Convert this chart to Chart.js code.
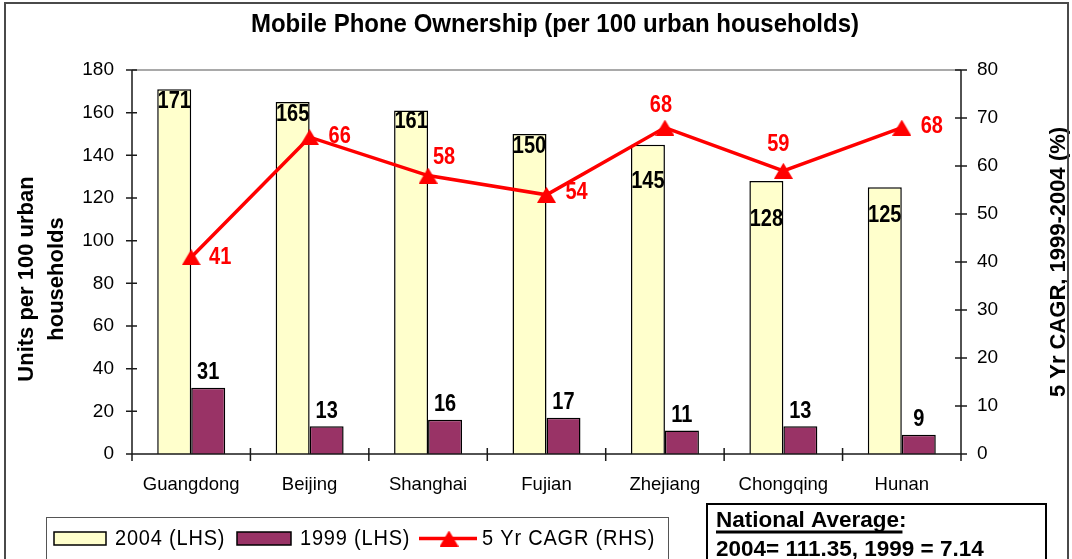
<!DOCTYPE html>
<html>
<head>
<meta charset="utf-8">
<script src="https://cdn.jsdelivr.net/npm/chart.js@4.4.1/dist/chart.umd.min.js"></script>
<style>
  html, body { margin: 0; padding: 0; background: #fff; }
  #wrap { position: relative; width: 1072px; height: 559px; overflow: hidden; }
  canvas { display: block; }
</style>
</head>
<body>
<div id="wrap"><canvas id="c" width="1072" height="559"></canvas></div>
<script>
// ---- data ----
const categories = ['Guangdong', 'Beijing', 'Shanghai', 'Fujian', 'Zhejiang', 'Chongqing', 'Hunan'];
const units2004 = [171, 165, 161, 150, 145, 128, 125];
const units1999 = [31, 13, 16, 17, 11, 13, 9];
const cagr = [41, 66, 58, 54, 68, 59, 68];
const leftAxis = { min: 0, max: 180, step: 20 };
const rightAxis = { min: 0, max: 80, step: 10 };
const chartTitle = 'Mobile Phone Ownership (per 100 urban households)';
const leftTitle = ['Units per 100 urban', 'households'];
const rightTitle = '5 Yr CAGR, 1999-2004 (%)';
const seriesNames = ['2004 (LHS)', '1999 (LHS)', '5 Yr CAGR (RHS)'];
const noteLines = ['National Average:', '2004= 111.35, 1999 = 7.14'];

// ---- label placement (style only) ----
const lab2004Dy = [12, 13, 11.5, 12.5, 36.5, 38.5, 28];
const lab1999Dy = -15;
const cagrLabOff = [[29, 0], [30, -1], [16, -18], [30, -2], [-4, -22], [-5, -26], [30, -1]];

const YELLOW = '#FFFFCC', MAROON = '#993366', RED = '#FF0000';
const FONT = "'Liberation Sans', Arial, Helvetica, sans-serif";

function triangleCanvas(w, h, color) {
  const c = document.createElement('canvas');
  c.width = w; c.height = h;
  const g = c.getContext('2d');
  g.fillStyle = color;
  g.beginPath();
  g.moveTo(w / 2, 0); g.lineTo(w, h); g.lineTo(0, h); g.closePath();
  g.fill();
  return c;
}
const tri = triangleCanvas(19, 16, RED);

function tallText(ctx, s, x, y, k) {
  ctx.save();
  ctx.translate(x, y);
  ctx.scale(1, k);
  ctx.fillText(s, 0, 0);
  ctx.restore();
}

const deco = {
  id: 'deco',
  beforeDraw(chart) {
    const ctx = chart.ctx;
    ctx.save();
    ctx.fillStyle = '#fff';
    ctx.fillRect(0, 0, chart.width, chart.height);
    ctx.restore();
  },
  beforeDatasetsDraw(chart) {
    const { ctx, chartArea: a } = chart;
    ctx.save();
    ctx.strokeStyle = '#8c8c8c';
    ctx.lineWidth = 1.5;
    ctx.beginPath();
    ctx.moveTo(a.left, a.top); ctx.lineTo(a.right, a.top);
    ctx.stroke();
    ctx.restore();
  },
  afterDatasetsDraw(chart) {
    const { ctx, chartArea: a, scales } = chart;
    ctx.save();
    ctx.strokeStyle = '#1a1a1a';
    ctx.lineWidth = 1.5;
    ctx.beginPath();
    ctx.moveTo(a.left, a.top); ctx.lineTo(a.left, a.bottom);
    ctx.moveTo(a.right, a.top); ctx.lineTo(a.right, a.bottom);
    ctx.moveTo(a.left - 6, a.bottom); ctx.lineTo(a.right + 6, a.bottom);
    scales.y.ticks.forEach(t => {
      const p = scales.y.getPixelForValue(t.value);
      ctx.moveTo(a.left - 6, p); ctx.lineTo(a.left + 5, p);
    });
    scales.y1.ticks.forEach(t => {
      const p = scales.y1.getPixelForValue(t.value);
      ctx.moveTo(a.right - 6, p); ctx.lineTo(a.right + 6, p);
    });
    for (let i = 0; i <= categories.length; i++) {
      const p = scales.x.getPixelForValue(i - 0.5);
      ctx.moveTo(p, a.bottom - 6); ctx.lineTo(p, a.bottom + 7);
    }
    ctx.stroke();
    ctx.restore();
  },
  afterDraw(chart) {
    const ctx = chart.ctx;
    ctx.save();
    // data labels
    ctx.textAlign = 'center';
    ctx.textBaseline = 'middle';
    ctx.font = 'bold 20px ' + FONT;
    ctx.fillStyle = '#000';
    const m0 = chart.getDatasetMeta(0), m1 = chart.getDatasetMeta(1), m2 = chart.getDatasetMeta(2);
    m0.data.forEach((el, i) => tallText(ctx, String(units2004[i]), el.x, el.y + lab2004Dy[i], 1.15));
    m1.data.forEach((el, i) => tallText(ctx, String(units1999[i]), el.x, el.y + lab1999Dy, 1.15));
    ctx.fillStyle = RED;
    m2.data.forEach((el, i) => tallText(ctx, String(cagr[i]), el.x + cagrLabOff[i][0], el.y + cagrLabOff[i][1], 1.15));

    // title
    ctx.fillStyle = '#000';
    ctx.font = 'bold 24px ' + FONT;
    tallText(ctx, chartTitle, 555, 25, 1.05);

    // axis titles
    ctx.font = 'bold 22px ' + FONT;
    ctx.textBaseline = 'alphabetic';
    [[33, leftTitle[0]], [63, leftTitle[1]]].forEach(([x, s]) => {
      ctx.save(); ctx.translate(x, 279); ctx.rotate(-Math.PI / 2); ctx.fillText(s, 0, 0); ctx.restore();
    });
    ctx.save(); ctx.translate(1065, 262); ctx.rotate(-Math.PI / 2); ctx.fillText(rightTitle, 0, 0); ctx.restore();

    // legend
    ctx.strokeStyle = '#555';
    ctx.lineWidth = 1;
    ctx.strokeRect(46.5, 517.5, 622, 80);
    const ds = chart.data.datasets;
    ctx.lineWidth = 1.5;
    ctx.strokeStyle = '#000';
    ctx.fillStyle = ds[0].backgroundColor; ctx.fillRect(54, 532, 52, 13); ctx.strokeRect(54, 532, 52, 13);
    ctx.fillStyle = ds[1].backgroundColor; ctx.fillRect(237, 532, 54, 13); ctx.strokeRect(237, 532, 54, 13);
    ctx.strokeStyle = RED; ctx.lineWidth = 3.5;
    ctx.beginPath(); ctx.moveTo(419, 538.5); ctx.lineTo(477, 538.5); ctx.stroke();
    ctx.drawImage(tri, 449 - 9.5, 538.5 - 8);
    ctx.fillStyle = '#000';
    ctx.font = '20px ' + FONT;
    ctx.textAlign = 'left';
    ctx.textBaseline = 'middle';
    try { ctx.letterSpacing = '0.8px'; } catch (e) {}
    tallText(ctx, ds[0].label, 115, 539, 1.1);
    tallText(ctx, ds[1].label, 300, 539, 1.1);
    tallText(ctx, ds[2].label, 482, 539, 1.1);
    try { ctx.letterSpacing = '0px'; } catch (e) {}

    // national average note
    ctx.strokeStyle = '#000'; ctx.lineWidth = 2;
    ctx.strokeRect(707, 504, 339, 80);
    ctx.font = 'bold 22.5px ' + FONT;
    ctx.textBaseline = 'alphabetic';
    ctx.fillText(noteLines[0], 716, 527);
    const w0 = ctx.measureText(noteLines[0]).width;
    ctx.fillRect(716, 530.5, w0 - 4, 3);
    ctx.fillText(noteLines[1], 716, 556);
    const w1 = ctx.measureText(noteLines[1]).width;
    ctx.fillRect(716, 559, w1, 2);

    // outer border
    ctx.strokeStyle = '#4a4a4a'; ctx.lineWidth = 2;
    ctx.strokeRect(5, 3, 1063, 600);
    ctx.restore();
  }
};

new Chart(document.getElementById('c'), {
  data: {
    labels: categories,
    datasets: [
      { type: 'bar', label: seriesNames[0], data: units2004, backgroundColor: YELLOW, borderColor: '#000', borderWidth: 1.5, yAxisID: 'y', order: 1, categoryPercentage: 0.574, barPercentage: 1.0 },
      { type: 'bar', label: seriesNames[1], data: units1999, backgroundColor: MAROON, borderColor: '#000', borderWidth: 1.5, yAxisID: 'y', order: 2, categoryPercentage: 0.574, barPercentage: 1.0 },
      { type: 'line', label: seriesNames[2], data: cagr, borderColor: RED, backgroundColor: RED, borderWidth: 3.5, yAxisID: 'y1', order: 0, pointStyle: tri, pointRadius: 9, pointHoverRadius: 9, tension: 0 }
    ]
  },
  options: {
    responsive: false,
    animation: false,
    devicePixelRatio: 1,
    events: [],
    layout: { padding: { top: 70, left: 0, right: 0, bottom: 0 } },
    plugins: { legend: { display: false }, tooltip: { enabled: false }, title: { display: false } },
    scales: {
      x: {
        type: 'category',
        offset: true,
        grid: { display: false, drawTicks: false },
        border: { display: false },
        ticks: { color: '#000', font: { family: FONT, size: 18.5 }, padding: 20, maxRotation: 0, autoSkip: false },
        afterFit(s) { s.height = 559 - 454; }
      },
      y: {
        position: 'left',
        min: leftAxis.min, max: leftAxis.max,
        grid: { display: false, drawTicks: false },
        border: { display: false },
        ticks: { stepSize: leftAxis.step, color: '#000', font: { family: FONT, size: 19 }, padding: 18 },
        afterFit(s) { s.width = 132; }
      },
      y1: {
        position: 'right',
        min: rightAxis.min, max: rightAxis.max,
        grid: { display: false, drawTicks: false },
        border: { display: false },
        ticks: { stepSize: rightAxis.step, color: '#000', font: { family: FONT, size: 19 }, padding: 16 },
        afterFit(s) { s.width = 1072 - 961; }
      }
    }
  },
  plugins: [deco]
});
</script>
</body>
</html>
